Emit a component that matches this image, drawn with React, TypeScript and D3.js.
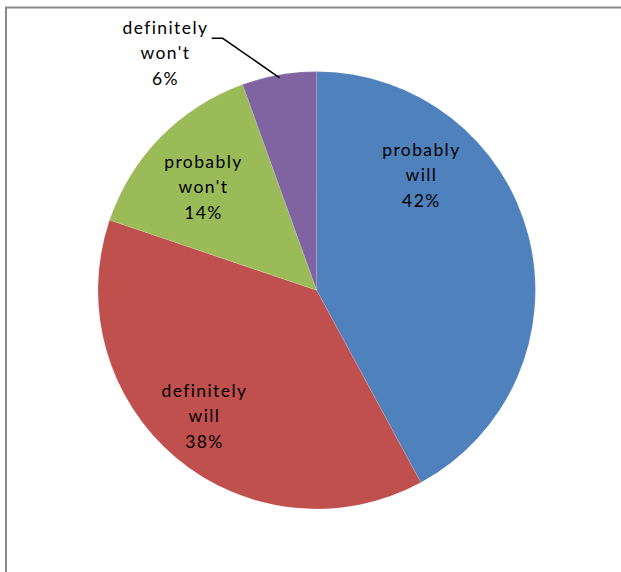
import React from "react";
import * as d3 from "d3";

const categories = ["probably will", "definitely will", "probably won't", "definitely won't"];
const values = [42.1, 38.1, 14.3, 5.5];
const colors = ["#4F81BD", "#C0504D", "#9BBB59", "#8064A2"];
const labelLines = [["probably", "will"], ["definitely", "will"], ["probably", "won't"], ["definitely", "won't"]];
// label block centres relative to pie centre (layout only)
const labelOffsets: [number, number][] = [[104, -115], [-113, 126], [-114, -103], [-152, -237]];

const W = 621, H = 572;
const cx = 316.7, cy = 290.3, R = 218.7;

export default function App() {
  const pie = d3.pie<number>().sort(null).value((d) => d).startAngle(0).endAngle(2 * Math.PI);
  const arcs = pie(values);
  const arc = d3.arc<d3.PieArcDatum<number>>().innerRadius(0).outerRadius(R);
  const total = d3.sum(values);
  const lh = 25.5;
  const ls = 1.4;

  // leader line for smallest slice
  const small = arcs[3];
  const midA = (small.startAngle + small.endAngle) / 2;
  const edge: [number, number] = [Math.sin(midA) * (R - 3), -Math.cos(midA) * (R - 3)];

  return (
    <div style={{ position: "absolute", left: 0, top: 0, width: W, height: H, background: "#fff" }}>
      <svg width={W} height={H} style={{ display: "block" }}>
        <rect x={0} y={0} width={W} height={H} fill="#fff" />
        <line x1={5} y1={7.5} x2={W} y2={7.5} stroke="#8a8a8a" strokeWidth={2} />
        <line x1={6} y1={7} x2={6} y2={H} stroke="#8a8a8a" strokeWidth={2} />
        <g transform={`translate(${cx},${cy})`}>
          {arcs.map((a, i) => (
            <path key={categories[i]} d={arc(a) || ""} fill={colors[i]} stroke="#fff" strokeOpacity={0.25} strokeWidth={0.5} />
          ))}
          <polyline
            points={`${labelOffsets[3][0] + 47},${labelOffsets[3][1] - 15} ${labelOffsets[3][0] + 58},${labelOffsets[3][1] - 15} ${edge[0]},${edge[1]}`}
            fill="none"
            stroke="#000"
            strokeWidth={1.5}
          />
          {arcs.map((a, i) => {
            const [ox, oy] = labelOffsets[i];
            const lines = [...labelLines[i], `${Math.round((values[i] / total) * 100)}%`];
            return (
              <text
                key={"l" + i}
                x={ox}
                y={oy - lh + 6}
                textAnchor="middle"
                fontFamily="Lato, 'Open Sans', sans-serif"
                fontSize={17.5}
                letterSpacing={ls}
                fill="#000"
              >
                {lines.map((t, j) => (
                  <tspan key={j} x={ox + ls / 2} dy={j === 0 ? 0 : lh}>
                    {t}
                  </tspan>
                ))}
              </text>
            );
          })}
        </g>
      </svg>
    </div>
  );
}
